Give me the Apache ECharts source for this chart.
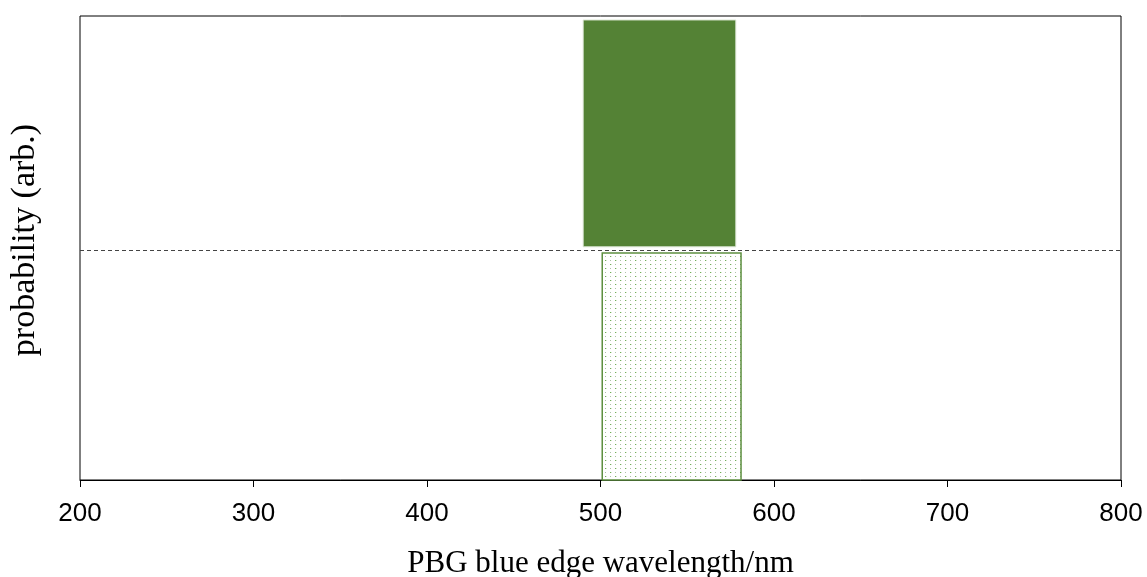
<!DOCTYPE html>
<html>
<head>
<meta charset="utf-8">
<script src="https://cdn.jsdelivr.net/npm/echarts@6/dist/echarts.min.js"></script>
<style>
  html, body { margin: 0; padding: 0; background: #fff; }
  #chart { width: 1147px; height: 577px; }
</style>
</head>
<body>
<div id="chart"></div>
<script>
// Wavelength ranges (nm) and probability heights for the two bands
const xTicks = [200, 300, 400, 500, 600, 700, 800];
const upperRange = [490, 578];    // filled band, upper panel
const upperProb = [1.005, 1.983]; // bottom / top
const lowerRange = [501, 581];    // dotted band, lower panel
const lowerProb = [0.0, 0.978];
const dividerLevel = 0.993;

const GREEN = '#548235';

// small dotted tile for the lower band
function dotPattern() {
  const c = document.createElement('canvas');
  c.width = 10; c.height = 8;
  const g = c.getContext('2d');
  g.fillStyle = '#ffffff';
  g.fillRect(0, 0, 10, 8);
  g.fillStyle = 'rgba(90,160,60,0.85)';
  g.fillRect(0, 0, 1, 1);
  g.fillRect(5, 4, 1, 1);
  g.fillStyle = 'rgba(110,140,100,0.55)';
  g.fillRect(5, 0, 1, 1);
  g.fillRect(0, 4, 1, 1);
  g.fillStyle = 'rgba(150,190,130,0.35)';
  g.fillRect(1, 0, 1, 1);
  g.fillRect(6, 4, 1, 1);
  return c;
}

const chart = echarts.init(document.getElementById('chart'), null, { renderer: 'canvas' });

function bandRenderer(style) {
  return function (params, api) {
    const p0 = api.coord([api.value(0), api.value(2)]);
    const p1 = api.coord([api.value(1), api.value(3)]);
    return {
      type: 'rect',
      shape: { x: p0[0], y: p1[1], width: p1[0] - p0[0], height: p0[1] - p1[1] },
      style: style
    };
  };
}

chart.setOption({
  animation: false,
  grid: {
    left: 80, right: 26, top: 16, bottom: 97,
    containLabel: false, outerBoundsMode: 'none',
    show: true, borderColor: '#000', borderWidth: 1, backgroundColor: 'transparent'
  },
  xAxis: {
    type: 'value', min: xTicks[0], max: xTicks[xTicks.length - 1], interval: 100,
    axisLine: { show: true, lineStyle: { color: '#000', width: 1 } },
    axisTick: { show: true, length: 7, lineStyle: { color: '#000' } },
    axisLabel: { color: '#000', fontFamily: 'Liberation Sans, Arial', fontSize: 26, margin: 21 },
    splitLine: { show: false },
    name: 'PBG blue edge wavelength/nm', nameLocation: 'middle', nameGap: 68, nameMoveOverlap: false,
    nameTextStyle: { color: '#000', fontFamily: 'Liberation Serif, Times New Roman', fontSize: 31 }
  },
  yAxis: {
    type: 'value', min: 0, max: 2,
    axisLine: { show: false }, axisTick: { show: false }, axisLabel: { show: false },
    splitLine: { show: false },
    name: 'probability (arb.)', nameLocation: 'middle', nameGap: 38, nameRotate: 90, nameMoveOverlap: false,
    nameTextStyle: { color: '#000', fontFamily: 'Liberation Serif, Times New Roman', fontSize: 34, padding: [0, 0, 0, 16] }
  },
  series: [
    {
      type: 'custom',
      renderItem: bandRenderer({ fill: GREEN, stroke: '#dfe8d8', lineWidth: 1 }),
      data: [[upperRange[0], upperRange[1], upperProb[0], upperProb[1]]],
      encode: { x: [0, 1], y: [2, 3] },
      markLine: {
        silent: true, symbol: 'none', label: { show: false },
        lineStyle: { color: '#444', type: [4, 3], width: 1 },
        data: [{ yAxis: dividerLevel }]
      }
    },
    {
      type: 'custom',
      renderItem: bandRenderer({ fill: { image: dotPattern(), repeat: 'repeat' }, stroke: '#5e8f40', lineWidth: 1.5 }),
      data: [[lowerRange[0], lowerRange[1], lowerProb[0], lowerProb[1]]],
      encode: { x: [0, 1], y: [2, 3] }
    }
  ]
});
</script>
</body>
</html>
